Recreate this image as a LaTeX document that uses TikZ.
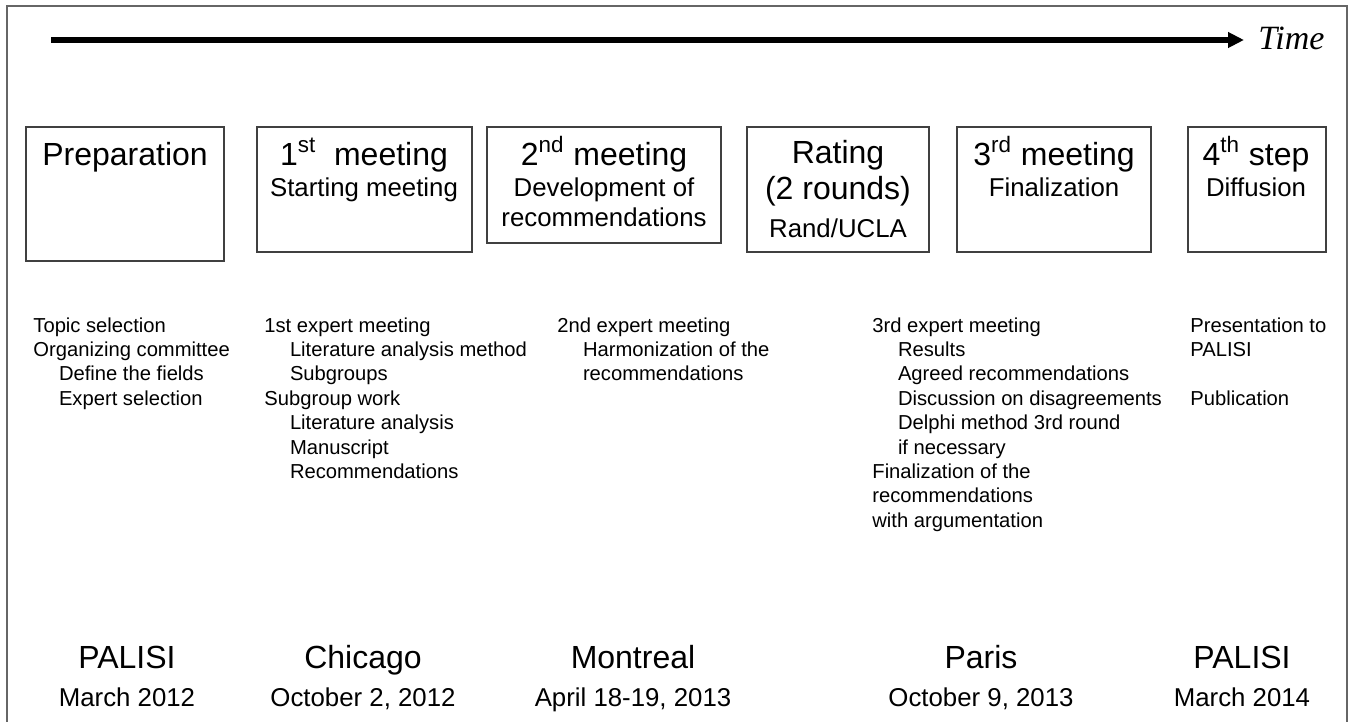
\documentclass[tikz,border=0pt]{standalone}
\usepackage{fontspec}
\setmainfont{Liberation Sans}
\newfontfamily\timefont{Liberation Serif}
\usetikzlibrary{arrows.meta}

\tikzset{
  stagebox/.style={draw=black!75, line width=0.7pt, inner sep=0pt},
  bigtxt/.style={anchor=base, inner sep=0pt, font=\fontsize{16}{18}\selectfont},
  subtxt/.style={anchor=base, inner sep=0pt, font=\fontsize{12.9}{15}\selectfont},
  tasklist/.style={anchor=north west, inner sep=0pt, align=left, font=\fontsize{10.1}{12.2}\selectfont},
}
\newcommand{\ind}{\hspace*{12.8pt}}

\begin{document}
\begin{tikzpicture}[x=0.5pt,y=-0.5pt]
\useasboundingbox (0,0) rectangle (1355,722);
% frame
\draw[black!60, line width=1pt] (6.5,722) -- (6.5,6.5) -- (1347,6.5) -- (1347,722);

% time axis
\coordinate (t0) at (51,40);
\node (time) [anchor=base west, inner sep=0pt, font=\timefont\itshape\fontsize{17}{20}\selectfont] at (1258,50) {Time};
\draw[line width=2.6pt, shorten >=7pt, -{Triangle[length=8pt,width=7.5pt]}] (t0) -- (t0 -| time.west);

% stages
\node (prep) [stagebox, minimum width=99pt, minimum height=67pt] at (125,194) {};
\node (meet1) [stagebox, minimum width=107.5pt, minimum height=62.5pt] at (364.5,189.5) {};
\node (meet2) [stagebox, minimum width=117pt, minimum height=58pt] at (604,185) {};
\node (rating) [stagebox, minimum width=91pt, minimum height=62.5pt] at (838,189.5) {};
\node (meet3) [stagebox, minimum width=97pt, minimum height=62.5pt] at (1054,189.5) {};
\node (step4) [stagebox, minimum width=69pt, minimum height=62.5pt] at (1257,189.5) {};

\node (prep-a) [bigtxt] at (125,165) {Preparation};
\node (meet1-a) [bigtxt] at (364,165) {1\textsuperscript{st}~~meeting};
\node (meet1-b) [subtxt] at (364,197) {Starting meeting};
\node (meet2-a) [bigtxt] at (604,165) {2\textsuperscript{nd} meeting};
\node (meet2-b) [subtxt] at (604,197) {Development of};
\node (meet2-c) [subtxt] at (604,227) {recommendations};
\node (rating-a) [bigtxt] at (838,163) {Rating};
\node (rating-b) [bigtxt] at (838,199) {(2 rounds)};
\node (rating-c) [subtxt] at (838,237) {Rand/UCLA};
\node (meet3-a) [bigtxt] at (1054,165) {3\textsuperscript{rd} meeting};
\node (meet3-b) [subtxt] at (1054,197) {Finalization};
\node (step4-a) [bigtxt] at (1256,165) {4\textsuperscript{th} step};
\node (step4-b) [subtxt] at (1256,197) {Diffusion};

% tasks
\node (tasks1) [tasklist] at (33,317) {Topic selection\\Organizing committee\\\ind Define the fields\\\ind Expert selection};
\node (tasks2) [tasklist] at (264,317) {1st expert meeting\\\ind Literature analysis method\\\ind Subgroups\\Subgroup work\\\ind Literature analysis\\\ind Manuscript\\\ind Recommendations};
\node (tasks3) [tasklist] at (557,317) {2nd expert meeting\\\ind Harmonization of the\\\ind recommendations};
\node (tasks4) [tasklist] at (872,317) {3rd expert meeting\\\ind Results\\\ind Agreed recommendations\\\ind Discussion on disagreements\\\ind Delphi method 3rd round\\\ind if necessary\\Finalization of the\\recommendations\\with argumentation};
\node (tasks5) [tasklist] at (1190,317) {Presentation to\\PALISI\\[12.2pt]Publication};

% venues and dates
\node (venue1) [bigtxt] at (127,668) {PALISI};
\node (date1) [subtxt] at (127,706) {March 2012};
\node (venue2) [bigtxt] at (363,668) {Chicago};
\node (date2) [subtxt] at (363,706) {October 2, 2012};
\node (venue3) [bigtxt] at (633,668) {Montreal};
\node (date3) [subtxt] at (633,706) {April 18-19, 2013};
\node (venue4) [bigtxt] at (981,668) {Paris};
\node (date4) [subtxt] at (981,706) {October 9, 2013};
\node (venue5) [bigtxt] at (1242,668) {PALISI};
\node (date5) [subtxt] at (1242,706) {March 2014};
\end{tikzpicture}
\end{document}
